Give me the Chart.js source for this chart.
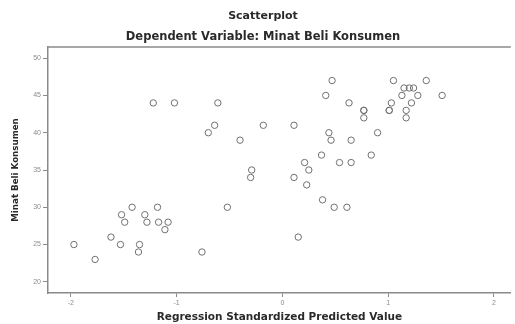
<!DOCTYPE html>
<html lang="id">
<head>
<meta charset="utf-8">
<title>Scatterplot - Minat Beli Konsumen</title>
<script src="https://cdn.jsdelivr.net/npm/chart.js@4.4.0/dist/chart.umd.min.js"></script>
<style>
    html, body { margin: 0; padding: 0; background: #fff; }
    #wrap { width: 515px; height: 324px; }
</style>
</head>
<body>
<div id="wrap"><canvas id="scatterChart" width="515" height="324"></canvas></div>
<script>
// Data (nilai prediksi terstandar vs minat beli)
const predictedValues = [
    -1.42, -1.18, -1.52, -1.30, -1.49, -1.28, -1.17, -1.08, -1.11, -1.62,
    -1.97, -1.53, -1.35, -1.36, -0.76, -1.77,
    -1.22, -1.02, -0.61, -0.64, -0.70, -0.18, -0.40, -0.29, -0.30, -0.52,
    0.47, 1.05, 1.36, 1.15, 1.20, 1.24, 0.41, 1.13, 1.28, 1.51,
    0.63, 1.03, 1.22, 0.77, 0.77, 1.01, 1.01, 1.17, 0.77, 1.17,
    0.11, 0.44, 0.90, 0.46, 0.65, 0.37, 0.84, 0.21, 0.54, 0.65,
    0.25, 0.11, 0.23, 0.38, 0.49, 0.61, 0.15
];
const minatBeli = [
    30, 30, 29, 29, 28, 28, 28, 28, 27, 26,
    25, 25, 25, 24, 24, 23,
    44, 44, 44, 41, 40, 41, 39, 35, 34, 30,
    47, 47, 47, 46, 46, 46, 45, 45, 45, 45,
    44, 44, 44, 43, 43, 43, 43, 43, 42, 42,
    41, 40, 40, 39, 39, 37, 37, 36, 36, 36,
    35, 34, 33, 31, 30, 30, 26
];
const xTicks = [-2, -1, 0, 1, 2];
const yTicks = [20, 25, 30, 35, 40, 45, 50];

const judul = 'Scatterplot';
const subJudul = 'Dependent Variable: Minat Beli Konsumen';
const hurufTebal = '"DejaVu Sans", Verdana, sans-serif';

// Plugin kecil untuk judul dan garis atas bingkai
const judulPlugin = {
    id: 'judulPlugin',
    afterDraw(chart) {
        const ctx = chart.ctx;
        const area = chart.chartArea;
        ctx.save();
        ctx.fillStyle = '#2a2a2a';
        ctx.textAlign = 'center';
        ctx.textBaseline = 'middle';
        ctx.font = 'bold 11px ' + hurufTebal;
        ctx.fillText(judul, 263, 16);
        ctx.font = 'bold 11.5px ' + hurufTebal;
        ctx.fillText(subJudul, 263, 37);
        // garis atas
        ctx.strokeStyle = '#8a8a8a';
        ctx.lineWidth = 1.5;
        ctx.beginPath();
        ctx.moveTo(area.left, area.top);
        ctx.lineTo(area.right, area.top);
        ctx.stroke();
        ctx.restore();
    }
};

document.addEventListener('DOMContentLoaded', function() {
    initializeScatterChart();
});

function initializeScatterChart() {
    const ctx = document.getElementById('scatterChart');
    if (!ctx) return;

    const titik = predictedValues.map(function(x, i) {
        return { x: x, y: minatBeli[i] };
    });

    new Chart(ctx.getContext('2d'), {
        type: 'scatter',
        data: {
            datasets: [{
                label: 'Minat Beli Konsumen',
                data: titik,
                pointStyle: 'circle',
                pointRadius: 3.2,
                pointHoverRadius: 3.2,
                borderColor: '#707070',
                borderWidth: 1,
                backgroundColor: 'rgba(0,0,0,0)'
            }]
        },
        options: {
            responsive: false,
            animation: false,
            devicePixelRatio: 1,
            layout: { padding: { top: 47, right: 0, left: 0, bottom: 0 } },
            plugins: {
                legend: { display: false },
                tooltip: { enabled: false }
            },
            scales: {
                x: {
                    type: 'linear',
                    min: -2.215,
                    max: 2.159,
                    afterBuildTicks: function(scale) {
                        scale.ticks = xTicks.map(function(v) { return { value: v }; });
                    },
                    afterFit: function(scale) { scale.height = 31; },
                    grid: { drawOnChartArea: false, drawTicks: true, tickLength: 4, color: '#8a8a8a', lineWidth: 1 },
                    border: { display: true, color: '#8a8a8a', width: 1.5 },
                    ticks: {
                        color: '#8c8c8c',
                        font: { family: '"Liberation Sans", Arial, sans-serif', size: 7 },
                        padding: 2,
                        maxRotation: 0
                    },
                    title: {
                        display: true,
                        text: 'Regression Standardized Predicted Value',
                        color: '#2a2a2a',
                        font: { family: hurufTebal, size: 10.5, weight: 'bold' },
                        padding: { top: 0, bottom: 0 }
                    }
                },
                y: {
                    type: 'linear',
                    min: 18.5,
                    max: 51.5,
                    afterBuildTicks: function(scale) {
                        scale.ticks = yTicks.map(function(v) { return { value: v }; });
                    },
                    afterFit: function(scale) { scale.width = 48; },
                    grid: { drawOnChartArea: false, drawTicks: true, tickLength: 5, color: '#8a8a8a', lineWidth: 1 },
                    border: { display: true, color: '#8a8a8a', width: 1.5 },
                    ticks: {
                        color: '#8c8c8c',
                        font: { family: '"Liberation Sans", Arial, sans-serif', size: 7 },
                        padding: 2
                    },
                    title: {
                        display: true,
                        text: 'Minat Beli Konsumen',
                        color: '#2a2a2a',
                        font: { family: hurufTebal, size: 8.7, weight: 'bold' },
                        padding: { top: 11, bottom: 0 }
                    }
                }
            }
        },
        plugins: [judulPlugin]
    });
}
</script>
</body>
</html>
